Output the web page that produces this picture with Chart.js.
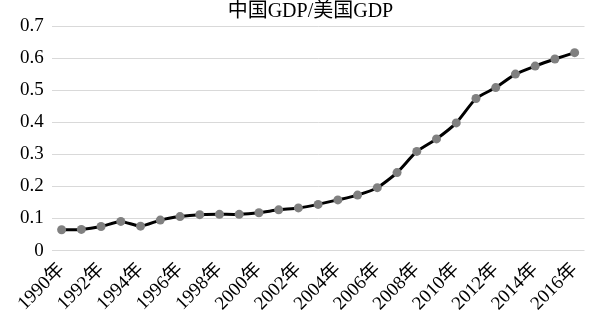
<!DOCTYPE html>
<html>
<head>
<meta charset="utf-8">
<script src="https://cdn.jsdelivr.net/npm/chart.js@4/dist/chart.umd.min.js"></script>
<style>
  html, body { margin: 0; padding: 0; background: #ffffff; }
  #wrap { width: 589px; height: 323px; position: relative; }
</style>
</head>
<body>
<div id="wrap"><canvas id="c"></canvas></div>
<script>
// Years shown on the category axis
const categories = [
  '1990年','1991年','1992年','1993年','1994年','1995年','1996年','1997年','1998年',
  '1999年','2000年','2001年','2002年','2003年','2004年','2005年','2006年','2007年',
  '2008年','2009年','2010年','2011年','2012年','2013年','2014年','2015年','2016年'
];
// Ratio of China's GDP to US GDP
const ratioValues = [
  0.065, 0.066, 0.075, 0.091, 0.076, 0.095, 0.106, 0.112, 0.113,
  0.113, 0.118, 0.127, 0.133, 0.144, 0.158, 0.173, 0.196, 0.243,
  0.309, 0.348, 0.398, 0.474, 0.508, 0.550, 0.575, 0.597, 0.617
];
// Value axis ticks
const yTicks = [0, 0.1, 0.2, 0.3, 0.4, 0.5, 0.6, 0.7];

const serif = "'Liberation Serif', 'Times New Roman', 'Noto Sans CJK SC', serif";

// Centre the title between the middle of the value labels and the right edge
const titleOverPlot = {
  id: 'titleOverPlot',
  afterLayout(chart) {
    const t = chart.titleBlock;
    const y = chart.scales.y;
    if (t && y) { t.left = y.left + y.width / 2; }
  }
};

new Chart(document.getElementById('c'), {
  type: 'line',
  data: {
    labels: categories,
    datasets: [{
      label: '中国GDP/美国GDP',
      data: ratioValues,
      borderColor: '#000000',
      borderWidth: 3,
      pointBackgroundColor: '#808080',
      pointBorderWidth: 0,
      pointRadius: 4.5,
      tension: 0.2,
      fill: false
    }]
  },
  plugins: [titleOverPlot],
  options: {
    responsive: true,
    maintainAspectRatio: false,
    animation: false,
    layout: { padding: { left: 12, right: 0, top: 0, bottom: 8 } },
    plugins: {
      legend: { display: false },
      tooltip: { enabled: false },
      title: {
        display: true,
        text: '中国GDP/美国GDP',
        color: '#000000',
        font: { family: serif, size: 20, weight: 'normal' },
        padding: { top: 0, bottom: 2 }
      }
    },
    scales: {
      x: {
        type: 'category',
        offset: true,
        grid: { display: false },
        border: { display: false },
        // the rotated labels end at their tick, so no extra room is kept on the right
        afterFit: function (scale) { scale.paddingRight = 0; },
        ticks: {
          autoSkip: false,
          maxRotation: 45,
          minRotation: 45,
          padding: 0,
          color: '#000000',
          font: { family: serif, size: 19 },
          callback: function (value, index) {
            return index % 2 === 0 ? categories[index] : '';
          }
        }
      },
      y: {
        min: yTicks[0],
        max: yTicks[yTicks.length - 1],
        afterBuildTicks: function (axis) {
          axis.ticks = yTicks.map(v => ({ value: v }));
        },
        grid: { color: '#d9d9d9', lineWidth: 1, drawTicks: false },
        border: { display: false },
        ticks: {
          padding: 8,
          color: '#000000',
          font: { family: serif, size: 19 },
          callback: v => String(Math.round(v * 10) / 10)
        }
      }
    }
  }
});
</script>
</body>
</html>
